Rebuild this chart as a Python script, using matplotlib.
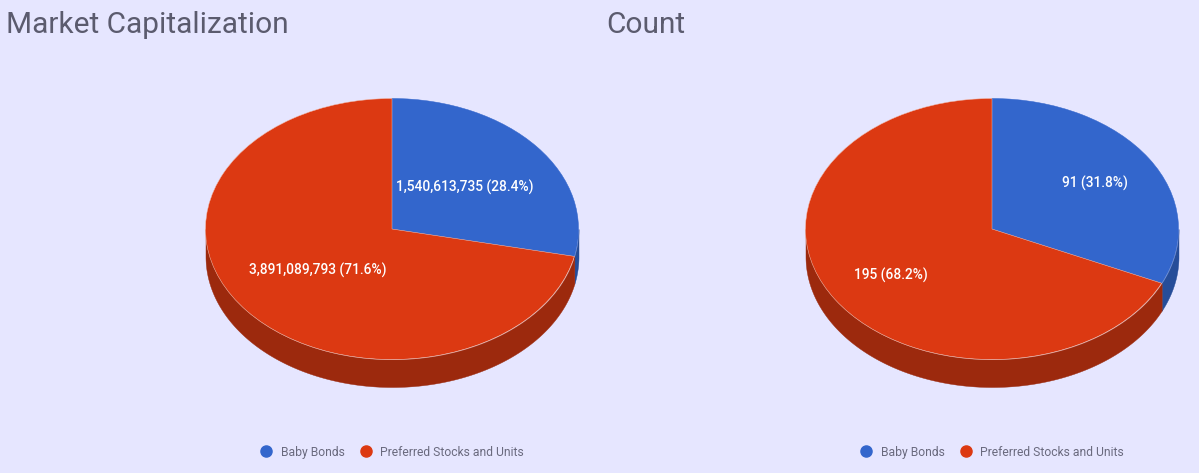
# coding=utf-8
# Two flat 3D-style pies: market capitalization and count.

import matplotlib.pyplot as plt
import numpy as np
from matplotlib.lines import Line2D

categories = ['Baby Bonds', 'Preferred Stocks and Units']
market_cap = [1540613735, 3891089793]
count = [91, 195]

colors = ['#3366CC', '#DC3912']
dark_colors = ['#264D99', '#9C290D']
bg_color = '#E6E6FF'
title_color = '#5B5B6E'
legend_color = '#6A6A7E'

W, H = 1199, 473
RX, RY, DEPTH = 186.5, 130.5, 27.5
CY = 229

plt.rcParams['font.family'] = ['Roboto', 'DejaVu Sans']

fig = plt.figure(figsize=(W / 100, H / 100), dpi=100, facecolor=bg_color)


def draw_pie(values, cx, title, title_x, label_pos):
    # Axes are placed in pixels so one data unit equals the pie radius.
    ax = fig.add_axes((
        (cx - RX * 1.1) / W,
        1 - (CY + RY * 1.5) / H,
        RX * 2.2 / W,
        RY * 2.6 / H,
    ))
    ax.set_facecolor('none')
    ax.axis('off')

    total = sum(values)
    depth = DEPTH / RY
    boundary = np.pi / 2 - 2 * np.pi * values[0] / total

    # Side wall, only the lower half of the rim shows.
    for start, stop, color in [(boundary, 0, dark_colors[0]), (-np.pi, boundary, dark_colors[1])]:
        t = np.linspace(start, stop, 200)
        ax.fill_between(np.cos(t), np.sin(t), np.sin(t) - depth, color=color, lw=0.3)

    wedges, _ = ax.pie(
        values, colors=colors, startangle=90, counterclock=False, radius=1,
        wedgeprops={'edgecolor': '#F0B8A8', 'linewidth': 0.35},
    )
    wedges[0].set_edgecolor(colors[0])
    ax.set_aspect('auto')
    ax.set_xlim(-1.1, 1.1)
    ax.set_ylim(-1.5, 1.1)

    fig.text(title_x / W, 1 - 25 / H, title, fontsize=21.5, color=title_color, ha='left', va='center')

    for v, (x, y) in zip(values, label_pos):
        fig.text(
            x / W, 1 - y / H, f'{v:,} ({v / total * 100:.1f}%)',
            fontsize=9.95, fontweight='medium', color='white', ha='center', va='center',
        )

    handles = [
        Line2D([], [], linestyle='none', marker='o', markersize=8, color=c, label=name)
        for c, name in zip(colors, categories)
    ]
    fig.legend(
        handles=handles, loc='center', bbox_to_anchor=((cx - 3) / W, 1 - 452 / H), ncol=2,
        frameon=False, fontsize=8.75, labelcolor=legend_color,
        handletextpad=0.2, columnspacing=0.75, borderpad=0,
    )


draw_pie(market_cap, 392, 'Market Capitalization', 6, [(465, 187), (318, 270)])
draw_pie(count, 992, 'Count', 606, [(1095, 183), (891, 275)])

fig.savefig('out.png', dpi=100, facecolor=bg_color)
